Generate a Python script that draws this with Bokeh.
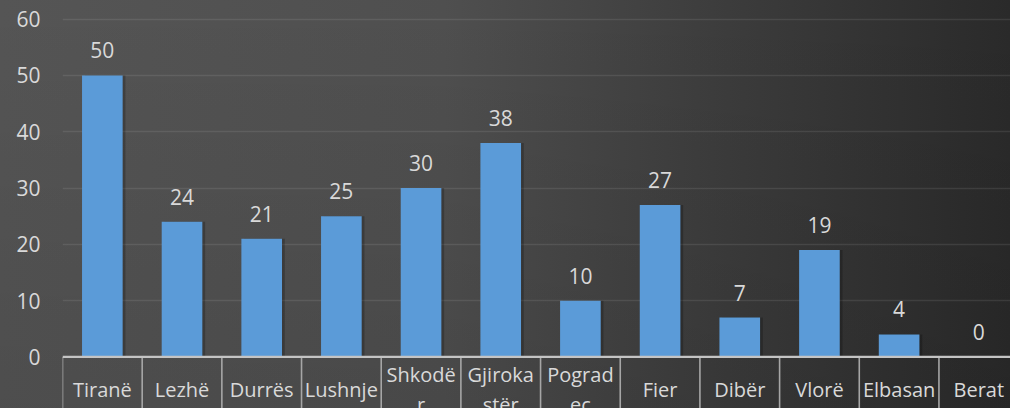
import numpy as np
from bokeh.plotting import figure
from bokeh.models import ColumnDataSource, FixedTicker, Span, Range1d
from bokeh.transform import dodge
from bokeh.core.properties import value
from bokeh.embed import file_html
from bokeh.resources import INLINE

# ---- data ----
categories = ["Tiranë", "Lezhë", "Durrës", "Lushnje", "Shkodër", "Gjirokastër",
              "Pogradec", "Fier", "Dibër", "Vlorë", "Elbasan", "Berat"]
category_labels = ["Tiranë", "Lezhë", "Durrës", "Lushnje", "Shkodë\nr", "Gjiroka\nstër",
                   "Pograd\nec", "Fier", "Dibër", "Vlorë", "Elbasan", "Berat"]
counts = [50, 24, 21, 25, 30, 38, 10, 27, 7, 19, 4, 0]
y_ticks = [0, 10, 20, 30, 40, 50, 60]

# ---- styles ----
TEXT = "#d9d9d9"
FONT = "Open Sans"
BAR = "#5b9bd8"

n = len(categories)
xs = [i + 0.5 for i in range(n)]
boundaries = list(range(n + 1))

src = ColumnDataSource(dict(
    x=xs, counts=counts, cat=categories, cat_label=category_labels,
    label=[str(v) for v in counts],
))

Y_BOTTOM = -9.16
p = figure(width=1010, height=408,
           x_range=Range1d(0, 11.898), y_range=Range1d(Y_BOTTOM, 63.31),
           x_axis_type=None, output_backend="svg", toolbar_location=None,
           min_border_left=62, min_border_right=0, min_border_top=0, min_border_bottom=0)
p.border_fill_color = None
p.background_fill_color = None
p.outline_line_color = None
p.styles = {
    "background": "linear-gradient(to bottom, rgba(0,0,0,0) 0%, rgba(0,0,0,0.09) 100%), "
                  "linear-gradient(to right, #555555 0%, #4f4f4f 44%, #3e3e3e 69%, #2a2a2a 100%)"
}

# y axis
p.yaxis.ticker = FixedTicker(ticks=y_ticks)
p.yaxis.axis_line_color = None
p.yaxis.major_tick_line_color = None
p.yaxis.minor_tick_line_color = None
p.yaxis.major_label_standoff = 16
p.yaxis.major_label_text_font = FONT
p.yaxis.major_label_text_font_size = "21px"
p.yaxis.major_label_text_color = TEXT

# grid
p.ygrid.ticker = FixedTicker(ticks=y_ticks[1:])
p.ygrid.grid_line_color = "white"
p.ygrid.grid_line_alpha = 0.09
p.ygrid.grid_line_width = 1.6

# bar shadow + bars
p.vbar(x=dodge("x", 0.035), top="counts", bottom=0, width=0.51, source=src,
       fill_color="black", fill_alpha=0.22, line_color=None)
p.vbar(x="x", top="counts", bottom=0, width=0.51, source=src,
       fill_color=BAR, line_color=None)

# value labels
p.text(x="x", y="counts", text="label", source=src,
       text_align="center", text_baseline="middle", y_offset=-25,
       text_font=value(FONT), text_font_size="21px", text_color=TEXT)

# category table lines
p.segment(x0=boundaries, y0=[0] * (n + 1), x1=boundaries, y1=[Y_BOTTOM] * (n + 1),
          line_color="#a6a6a6", line_width=1.6)
p.add_layout(Span(location=0, dimension="width", line_color="#c4c4c4", line_width=2.2))

# category labels
p.text(x="x", y=-5.77, text="cat_label", source=src,
       text_align="center", text_baseline="middle", text_line_height=1.1,
       text_font=value(FONT), text_font_size="20px", text_color=TEXT)

open("out.html", "w").write(file_html(p, INLINE))
